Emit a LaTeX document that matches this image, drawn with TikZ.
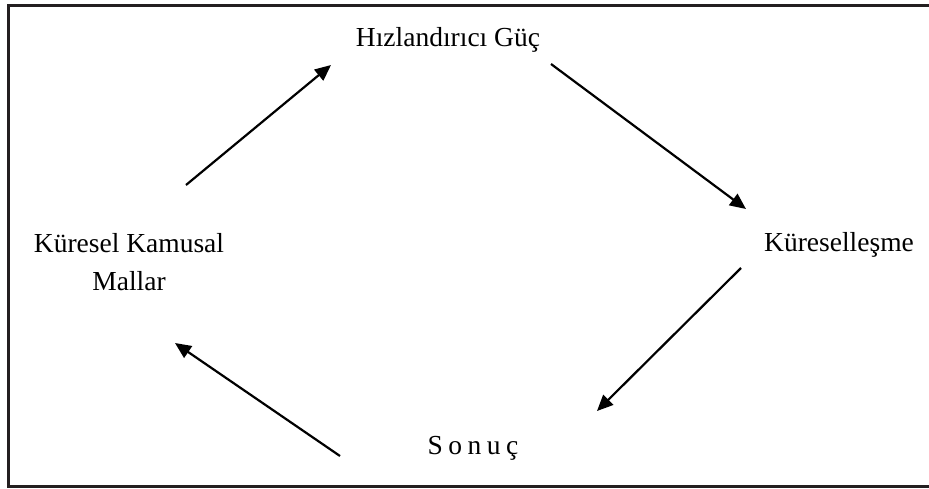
\documentclass[tikz,border=0pt]{standalone}
\usepackage{fontspec}
\setmainfont{Liberation Serif}
\usetikzlibrary{arrows.meta}
\definecolor{boxline}{HTML}{231F20}
\newcommand{\lsp}{\hspace{0.2em}}
\begin{document}
\begin{tikzpicture}[x=1pt,y=-1pt,
  lbl/.style={font=\fontsize{27.5}{38}\selectfont, inner sep=0pt, align=center},
  conn/.style={line width=2.2pt, -{Triangle[length=16pt,width=14pt]}}]
\useasboundingbox (0,0) rectangle (929,488);
\draw[boxline, line width=3pt] (935,5.5) -- (8,5.5) -- (8,486) -- (935,486);
\node[lbl] (hg) at (448,40) {Hızlandırıcı Güç};
\node[lbl] (ks) at (839,245) {Küreselleşme};
\node[lbl] (kk) at (129,262) {Küresel Kamusal\\Mallar};
\node[lbl] (so) at (473,448) {S\lsp o\lsp n\lsp u\lsp ç};
\coordinate (a1s) at (186,185);
\coordinate (a1e) at (331,65);
\coordinate (a2s) at (551,64);
\coordinate (a2e) at (746,209);
\coordinate (a3s) at (741,268);
\coordinate (a3e) at (597,411);
\coordinate (a4s) at (340,456);
\coordinate (a4e) at (175,343);
\draw[conn] (a1s) -- (a1e);
\draw[conn] (a2s) -- (a2e);
\draw[conn] (a3s) -- (a3e);
\draw[conn] (a4s) -- (a4e);
\end{tikzpicture}
\end{document}
